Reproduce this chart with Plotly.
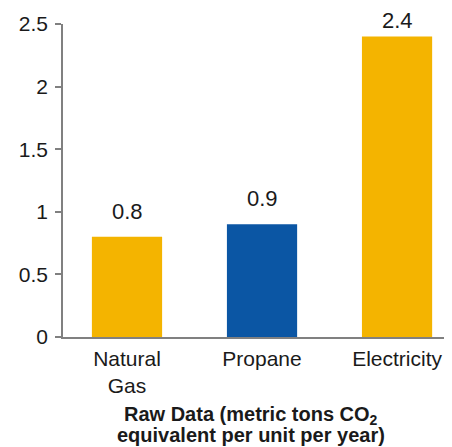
import plotly.graph_objects as go

categories = ["Natural<br>Gas", "Propane", "Electricity"]
values = [0.8, 0.9, 2.4]
bar_colors = ["#F4B400", "#0B56A4", "#F4B400"]
y_ticks = [0, 0.5, 1, 1.5, 2, 2.5]
y_tick_labels = ["0", "0.5", "1", "1.5", "2", "2.5"]
title_lines = ["<b>Raw Data (metric tons CO<sub>2</sub></b>",
               "<b>equivalent per unit per year)</b>"]

font_family = "Liberation Sans, Arial, sans-serif"
text_color = "#1a1a1a"
axis_color = "#808080"
y_max = 2.5

fig = go.Figure()
fig.add_trace(go.Bar(
    x=categories, y=values,
    marker=dict(color=bar_colors, line=dict(width=0)),
    width=0.52,
    hoverinfo="skip",
))

for c, v in zip(categories, values):
    # labels sit higher above short bars; the tallest one is squeezed near the top edge
    shift = 11 if v < 0.8 * y_max else 2
    fig.add_annotation(x=c, y=v, text=f"{v:g}", showarrow=False,
                       yanchor="bottom", yshift=shift,
                       font=dict(size=22, color=text_color, family=font_family))

# two-line axis title drawn as annotations for tight line spacing
for i, line in enumerate(title_lines):
    fig.add_annotation(xref="paper", yref="paper", x=0.483, y=0,
                       yanchor="top", yshift=-64 - 21 * i,
                       text=line, showarrow=False,
                       font=dict(size=20, color=text_color, family=font_family))

fig.update_layout(
    width=444, height=439,
    margin=dict(l=55, r=0, t=16, b=110),
    paper_bgcolor="white", plot_bgcolor="white",
    showlegend=False,
    font=dict(family=font_family, color=text_color, size=22),
    xaxis=dict(
        range=[-0.474, 2.407],
        showline=True, linecolor=axis_color, linewidth=1.5,
        ticks="", showgrid=False, zeroline=False,
        ticklabelstandoff=2,
        tickfont=dict(size=21, color=text_color),
    ),
    yaxis=dict(
        range=[0, y_max],
        tickvals=y_ticks, ticktext=y_tick_labels,
        showline=True, linecolor=axis_color, linewidth=1.5,
        ticks="outside", ticklen=6, tickcolor=axis_color, tickwidth=1.5,
        ticklabelstandoff=3,
        showgrid=False, zeroline=False,
        tickfont=dict(size=21, color=text_color),
    ),
)

fig.write_html("out.html")
